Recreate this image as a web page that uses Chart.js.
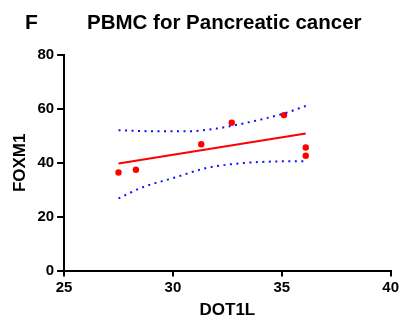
<!DOCTYPE html>
<html>
<head>
<meta charset="utf-8">
<script src="https://cdn.jsdelivr.net/npm/chart.js@4"></script>
<style>
  html, body { margin: 0; padding: 0; background: #fff; }
  #wrap { width: 401px; height: 322px; }
</style>
</head>
<body>
<div id="wrap"><canvas id="chart" width="401" height="322"></canvas></div>
<script>
// values
const dot1l = [27.5, 28.3, 31.3, 32.7, 35.1, 36.1, 36.1];
const foxm1 = [36.4, 37.4, 46.9, 54.9, 57.7, 45.7, 42.6];

const fitX = [27.5, 36.1];
const fitY = [39.7, 50.9];

const upperX = [27.5, 29.2, 30.7, 32.0, 32.7, 33.8, 35.1, 36.1];
const upperY = [52.1, 51.7, 51.7, 52.7, 53.7, 55.6, 58.3, 61.1];
const lowerX = [27.5, 28.6, 30.0, 31.5, 32.7, 34.3, 36.1];
const lowerY = [26.8, 30.9, 34.3, 38.0, 39.5, 40.4, 40.6];

const xTicks = [25, 30, 35, 40];
const yTicks = [0, 20, 40, 60, 80];

const panelLetter = "F";
const titleText = "PBMC for Pancreatic cancer";

function pairs(xs, ys) {
    return xs.map((x, i) => ({ x: x, y: ys[i] }));
}

const headerPlugin = {
    id: "header",
    afterDraw(chart) {
        const ctx = chart.ctx;
        ctx.save();
        ctx.fillStyle = "#000";
        ctx.font = "bold 21px 'Liberation Sans', Arial, sans-serif";
        ctx.textBaseline = "alphabetic";
        ctx.fillText(panelLetter, 25, 29);
        ctx.font = "bold 20.5px 'Liberation Sans', Arial, sans-serif";
        ctx.fillText(titleText, 87, 29);
        ctx.restore();
    }
};

const bandStyle = {
    type: "line",
    showLine: true,
    borderColor: "#1010ff",
    borderWidth: 2,
    borderDash: [2, 4.5],
    pointRadius: 0,
    fill: false,
    cubicInterpolationMode: "monotone"
};

const ctx = document.getElementById("chart").getContext("2d");
new Chart(ctx, {
    type: "scatter",
    data: {
        datasets: [
            Object.assign({ label: "upper", data: pairs(upperX, upperY) }, bandStyle),
            Object.assign({ label: "lower", data: pairs(lowerX, lowerY) }, bandStyle),
            {
                type: "line",
                label: "fit",
                data: pairs(fitX, fitY),
                borderColor: "#ff0000",
                borderWidth: 2,
                pointRadius: 0,
                fill: false
            },
            {
                label: "PBMC",
                data: pairs(dot1l, foxm1),
                backgroundColor: "#ff0000",
                borderColor: "#ff0000",
                pointRadius: 3.2,
                borderWidth: 0
            }
        ]
    },
    options: {
        responsive: false,
        animation: false,
        layout: { padding: { top: 55, right: 6, bottom: 1, left: 10 } },
        plugins: {
            legend: { display: false },
            tooltip: { enabled: false }
        },
        scales: {
            x: {
                type: "linear",
                min: 25,
                max: 40,
                afterBuildTicks: axis => { axis.ticks = xTicks.map(v => ({ value: v })); },
                grid: { drawOnChartArea: false, drawTicks: true, tickLength: 6, color: "#000", lineWidth: 2 },
                border: { display: true, color: "#000", width: 2 },
                ticks: {
                    color: "#000",
                    padding: 2,
                    font: { family: "'Liberation Sans', Arial, sans-serif", size: 15, weight: "bold" }
                },
                title: {
                    display: true,
                    text: "DOT1L",
                    color: "#000",
                    padding: { top: 2, bottom: 0 },
                    font: { family: "'Liberation Sans', Arial, sans-serif", size: 17, weight: "bold" }
                }
            },
            y: {
                type: "linear",
                min: 0,
                max: 80,
                afterBuildTicks: axis => { axis.ticks = yTicks.map(v => ({ value: v })); },
                grid: { drawOnChartArea: false, drawTicks: true, tickLength: 7, color: "#000", lineWidth: 2 },
                border: { display: true, color: "#000", width: 2 },
                ticks: {
                    color: "#000",
                    padding: 3,
                    font: { family: "'Liberation Sans', Arial, sans-serif", size: 15, weight: "bold" }
                },
                title: {
                    display: true,
                    text: "FOXM1",
                    color: "#000",
                    padding: { top: 0, bottom: 4 },
                    font: { family: "'Liberation Sans', Arial, sans-serif", size: 17, weight: "bold" }
                }
            }
        }
    },
    plugins: [headerPlugin]
});
</script>
</body>
</html>
